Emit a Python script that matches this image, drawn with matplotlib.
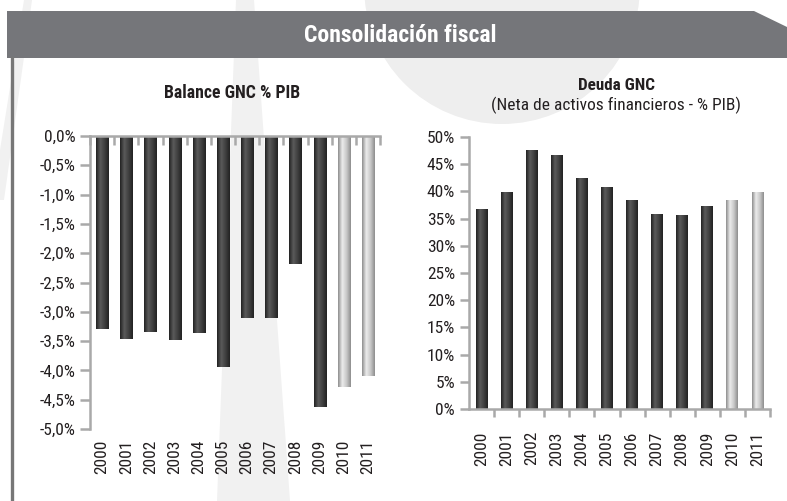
import matplotlib
matplotlib.use('Agg')
from matplotlib import pyplot as plt
from matplotlib.patches import Polygon, Ellipse
from matplotlib.colors import LinearSegmentedColormap
import numpy as np

# data
years = ['2000', '2001', '2002', '2003', '2004', '2005', '2006', '2007', '2008', '2009', '2010', '2011']
balance = [-3.30, -3.46, -3.34, -3.48, -3.36, -3.94, -3.10, -3.10, -2.18, -4.63, -4.29, -4.09]
deuda = [36.8, 39.8, 47.7, 46.7, 42.5, 40.9, 38.5, 35.9, 35.7, 37.4, 38.5, 39.8]
projected = [False] * 10 + [True] * 2
balance_ticks = [0.0, -0.5, -1.0, -1.5, -2.0, -2.5, -3.0, -3.5, -4.0, -4.5, -5.0]
deuda_ticks = [0, 5, 10, 15, 20, 25, 30, 35, 40, 45, 50]

plt.rcParams['font.family'] = ['Roboto Condensed', 'Liberation Sans Narrow', 'Liberation Sans']

W, H = 787, 501
fig = plt.figure(figsize=(W / 100, H / 100), dpi=100)


def px(x, y):
    return (x / W, 1 - y / H)


# faint watermark shapes in the background
wm = '#f1f1f1'
fig.patches.append(Polygon([px(217, 501), px(290, 501), px(254, 0), px(236, 0)],
                           closed=True, transform=fig.transFigure, fc=wm, ec='none', zorder=-5))
fig.patches.append(Ellipse(px(502, -14), 276 / W, 276 / H, transform=fig.transFigure,
                           fc='#eeeeee', ec='none', zorder=-5))
fig.patches.append(Polygon([px(24, 0), px(32, 0), px(4, 200), px(0, 200), px(0, 150)],
                           closed=True, transform=fig.transFigure, fc=wm, ec='none', zorder=-5))

# header band
fig.patches.append(Polygon([px(7, 11), px(754, 11), px(787, 27), px(787, 58), px(7, 58)],
                           closed=True, transform=fig.transFigure, fc='#75767a', ec='none', zorder=1))
fig.text(*px(400, 35), 'Consolidación fiscal', color='white', fontsize=17, fontweight='bold',
         ha='center', va='center')
fig.add_artist(plt.Line2D([12 / W, 12 / W], [1 - 58 / H, 0], transform=fig.transFigure,
                          color='#777777', lw=2.4))

dark_cm = LinearSegmentedColormap.from_list('d', ['#222222', '#5a5a5a', '#404040', '#222222'])
light_cm = LinearSegmentedColormap.from_list('l', ['#8e8e8e', '#ececec', '#c8c8c8', '#8e8e8e'])
grad = np.linspace(0, 1, 64).reshape(1, -1)
axis_col = '#a9a9a9'
txt_col = '#231f20'


def shade_bars(ax, bars):
    for rect, proj in zip(bars, projected):
        x = rect.get_x()
        w = rect.get_width()
        y0 = rect.get_y()
        y1 = y0 + rect.get_height()
        im = ax.imshow(grad, extent=(x, x + w, min(y0, y1), max(y0, y1)), aspect='auto',
                       cmap=light_cm if proj else dark_cm, zorder=2, interpolation='bilinear')
        im.set_clip_path(rect)


def style(ax):
    ax.patch.set_alpha(0)
    for s in ax.spines.values():
        s.set_color(axis_col)
        s.set_linewidth(1.8)
    ax.tick_params(axis='y', colors=axis_col, labelcolor=txt_col, labelsize=12.5,
                   length=7, width=1.8, direction='out')
    ax.tick_params(axis='x', which='major', length=0, labelsize=12.5, labelcolor=txt_col,
                   labelrotation=90)
    ax.tick_params(axis='x', which='minor', colors=axis_col, width=1.8, length=6.5)


x = np.arange(len(years))

# left chart: balance
ax1 = fig.add_axes([90 / W, 1 - 429 / H, 290 / W, 293 / H])
b1 = ax1.bar(x, balance, width=0.5, color='#3a3a3a', zorder=1)
shade_bars(ax1, b1)
ax1.set_xlim(-0.5, len(years) - 0.5)
ax1.set_ylim(-5, 0)
ax1.set_yticks(balance_ticks)
ax1.set_yticklabels([('%.1f%%' % v).replace('.', ',') for v in balance_ticks])
ax1.set_xticks(x)
ax1.set_xticklabels(years)
ax1.set_xticks(np.arange(-0.5, len(years)), minor=True)
style(ax1)
ax1.spines['bottom'].set_visible(False)
ax1.spines['right'].set_visible(False)
ax1.spines['top'].set_zorder(3)
ax1.tick_params(axis='x', which='minor', bottom=False, top=True, direction='in')
ax1.tick_params(axis='x', which='major', pad=8)

# right chart: deuda
ax2 = fig.add_axes([469 / W, 1 - 409 / H, 301 / W, 272 / H])
b2 = ax2.bar(x, deuda, width=0.47, color='#3a3a3a', zorder=1)
shade_bars(ax2, b2)
ax2.set_xlim(-0.5, len(years) - 0.5)
ax2.set_ylim(0, 50)
ax2.set_yticks(deuda_ticks)
ax2.set_yticklabels(['%d%%' % v for v in deuda_ticks])
ax2.set_xticks(x)
ax2.set_xticklabels(years)
ax2.set_xticks(np.arange(0.5, len(years)), minor=True)
style(ax2)
ax2.spines['top'].set_visible(False)
ax2.spines['right'].set_visible(False)
ax2.tick_params(axis='x', which='minor', direction='out', length=6)
ax2.tick_params(axis='x', which='major', pad=16)
ax2.tick_params(axis='y', length=6.5)

fig.text(*px(232, 93), 'Balance GNC % PIB', fontsize=12.8, fontweight='bold', color=txt_col,
         ha='center', va='center')
fig.text(*px(616, 85), 'Deuda GNC', fontsize=12.3, fontweight='bold', color=txt_col,
         ha='center', va='center')
fig.text(*px(616, 105), '(Neta de activos financieros - % PIB)', fontsize=12.5, color=txt_col,
         ha='center', va='center')

fig.savefig('out.png', dpi=100)
